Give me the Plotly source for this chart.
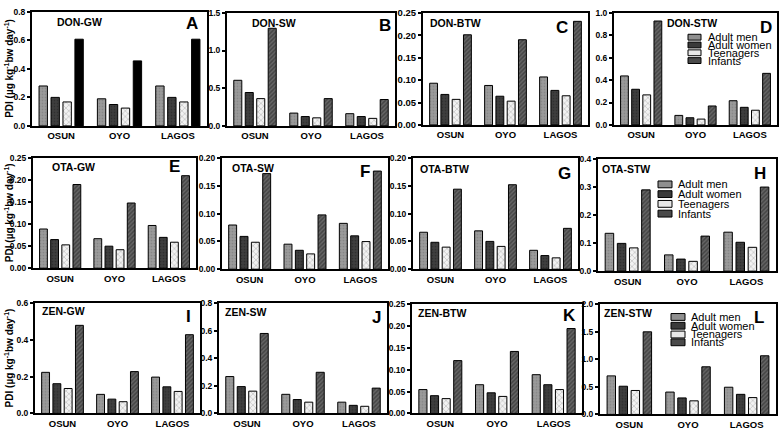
import plotly.graph_objects as go

categories = ["OSUN", "OYO", "LAGOS"]
groups = ["Adult men", "Adult women", "Teenagers", "Infants"]

# values per group (men, women, teenagers, infants) across OSUN, OYO, LAGOS
don_gw = [[0.28, 0.19, 0.28], [0.20, 0.15, 0.20], [0.168, 0.125, 0.168], [0.608, 0.456, 0.608]]
don_sw = [[0.605, 0.17, 0.162], [0.443, 0.124, 0.124], [0.362, 0.107, 0.10], [1.295, 0.362, 0.35]]
don_btw = [[0.093, 0.088, 0.107], [0.068, 0.064, 0.077], [0.057, 0.053, 0.065], [0.201, 0.19, 0.231]]
don_stw = [[0.437, 0.085, 0.216], [0.318, 0.064, 0.157], [0.268, 0.052, 0.131], [0.927, 0.169, 0.46]]
ota_gw = [[0.089, 0.067, 0.097], [0.065, 0.05, 0.07], [0.053, 0.042, 0.059], [0.19, 0.148, 0.21]]
ota_sw = [[0.0795, 0.045, 0.0825], [0.059, 0.034, 0.06], [0.0485, 0.0275, 0.0497], [0.172, 0.0977, 0.1766]]
ota_btw = [[0.0665, 0.069, 0.034], [0.0484, 0.05, 0.0245], [0.0397, 0.041, 0.0204], [0.144, 0.152, 0.0735]]
ota_stw = [[0.135, 0.058, 0.139], [0.099, 0.043, 0.103], [0.083, 0.035, 0.085], [0.29, 0.125, 0.30]]
zen_gw = [[0.224, 0.104, 0.198], [0.162, 0.078, 0.145], [0.136, 0.064, 0.12], [0.48, 0.228, 0.429]]
zen_sw = [[0.268, 0.139, 0.082], [0.195, 0.101, 0.059], [0.162, 0.082, 0.052], [0.581, 0.299, 0.184]]
zen_btw = [[0.0547, 0.0658, 0.0888], [0.0407, 0.0473, 0.0658], [0.034, 0.039, 0.0547], [0.121, 0.142, 0.1945]]
zen_stw = [[0.70, 0.406, 0.494], [0.512, 0.30, 0.365], [0.435, 0.247, 0.306], [1.5, 0.865, 1.065]]

panel_data = [don_gw, don_sw, don_btw, don_stw, ota_gw, ota_sw, ota_btw, ota_stw,
              zen_gw, zen_sw, zen_btw, zen_stw]
panel_titles = ["DON-GW", "DON-SW", "DON-BTW", "DON-STW", "OTA-GW", "OTA-SW", "OTA-BTW", "OTA-STW",
                "ZEN-GW", "ZEN-SW", "ZEN-BTW", "ZEN-STW"]
panel_letters = ["A", "B", "C", "D", "E", "F", "G", "H", "I", "J", "K", "L"]
y_max = [0.8, 1.5, 0.25, 1.0, 0.25, 0.20, 0.20, 0.4, 0.6, 0.8, 0.25, 2.0]
y_dtick = [0.2, 0.5, 0.05, 0.2, 0.05, 0.05, 0.05, 0.1, 0.2, 0.2, 0.05, 0.5]
y_fmt = [".1f", ".1f", ".2f", ".1f", ".2f", ".2f", ".2f", ".1f", ".1f", ".1f", ".2f", ".1f"]

W, H = 781, 436
# panel boxes in pixels (left, right, top, bottom)
boxes = [
    (32, 207, 6, 123), (227, 395, 7, 123), (423, 588, 7, 122), (614, 777, 7, 122),
    (33, 196, 156, 269), (222, 388, 156, 270), (413, 578, 156, 270), (598, 776, 157, 272),
    (35, 200, 305, 418), (219, 387, 305, 418), (412, 582, 306, 418), (600, 776, 306, 419),
]
title_dx = [23, 23, 5, 51, 17, 8, 5, 2, 5, 4, 4, 2]
title_dy = [10, 10, 10, 10, 9, 10, 11, 10, 8, 9, 9, 9]
letter_dx = [7, 2, 18, 3, 14, 16, 5, 8, 7, 4, 4, 10]
letter_dy = [12, 13, 15, 15, 9, 14, 16, 15, 14, 15, 12, 14]
tick_size = [8.5, 8.5, 9.5, 8.5, 8.5, 8.5, 8.5, 8.5, 8.5, 8.5, 8.5, 8.5]

FONT = "Arial, Liberation Sans, sans-serif"

styles = [
    dict(color="#959595", pattern=dict(shape=".", fgcolor="#6f6f6f", bgcolor="#9a9a9a", size=3, solidity=0.25)),
    dict(color="#3a3a3a", pattern=dict(shape=".", fgcolor="#1e1e1e", bgcolor="#3e3e3e", size=3, solidity=0.25)),
    dict(color="#e6e6e6", pattern=dict(shape="x", fgcolor="#9c9c9c", bgcolor="#f2f2f2", size=4, solidity=0.35)),
    dict(color="#5a5a5a", pattern=dict(shape="/", fgcolor="#222222", bgcolor="#666666", size=3, solidity=0.5)),
]

fig = go.Figure()
layout = dict(width=W, height=H, margin=dict(l=0, r=0, t=0, b=0),
              plot_bgcolor="white", paper_bgcolor="white",
              barmode="group", bargap=0.18, bargroupgap=0.3, showlegend=False,
              font=dict(family=FONT, color="black"))
annotations = []
shapes = []

for i, data in enumerate(panel_data):
    n = i + 1
    xa = "x" if n == 1 else f"x{n}"
    ya = "y" if n == 1 else f"y{n}"
    for g in range(4):
        st = styles[g]
        marker = dict(color=st["color"], pattern=st["pattern"], line=dict(color="black", width=1))
        if i == 0 and g == 3:
            marker = dict(color="#000000", line=dict(color="black", width=1))
        fig.add_trace(go.Bar(x=categories, y=data[g], name=groups[g], marker=marker,
                             xaxis=xa, yaxis=ya, showlegend=False))
    l, r, t, b = boxes[i]
    xd = [l / W, r / W]
    yd = [1 - b / H, 1 - t / H]
    layout["xaxis" if n == 1 else f"xaxis{n}"] = dict(
        domain=xd, anchor=ya, showline=True, linecolor="black", linewidth=2, mirror=True,
        ticks="", tickfont=dict(size=9.5, family=FONT, color="black", weight="bold"),
        showgrid=False, range=[-0.5, 2.5], fixedrange=True)
    layout["yaxis" if n == 1 else f"yaxis{n}"] = dict(
        domain=yd, anchor=xa, showline=True, linecolor="black", linewidth=2, mirror=True,
        range=[0, y_max[i]], dtick=y_dtick[i], tick0=0, tickformat=y_fmt[i],
        ticks="outside", ticklen=3, tickwidth=1.5, tickcolor="black",
        tickfont=dict(size=tick_size[i], family=FONT, color="black", weight="bold"),
        showgrid=False, zeroline=False, fixedrange=True)
    # panel title
    annotations.append(dict(x=(l + title_dx[i]) / W, y=1 - (t + title_dy[i]) / H,
                            xref="paper", yref="paper",
                            text=panel_titles[i], showarrow=False, xanchor="left", yanchor="middle",
                            font=dict(size=10.5, family=FONT, color="black", weight="bold")))
    annotations.append(dict(x=(r - letter_dx[i]) / W, y=1 - (t + letter_dy[i]) / H,
                            xref="paper", yref="paper",
                            text=panel_letters[i], showarrow=False, xanchor="right", yanchor="middle",
                            font=dict(size=17, family=FONT, color="black", weight="bold")))

# y-axis titles
for t, b in [(6, 123), (156, 269), (305, 418)]:
    annotations.append(dict(x=9 / W, y=1 - ((t + b) / 2) / H, xref="paper", yref="paper",
                            text="PDI (µg kg<sup>-1</sup>bw day<sup>-1</sup>)", textangle=-90,
                            showarrow=False, xanchor="center", yanchor="middle",
                            font=dict(size=10, family=FONT, color="black", weight="bold")))

# legends (D, H, L)
legend_fill = ["#8f8f8f", "#3a3a3a", "#e8e8e8", "#4a4a4a"]
legend_boxes = [
    (688, 701, 706, [32, 40, 48, 56], 6),
    (658, 672, 676, [183, 193, 203, 213], 7),
    (671, 685, 689, [319, 328, 337, 345], 7),
]
for x0, x1, xt, rows, hh in legend_boxes:
    for g, yc in enumerate(rows):
        shapes.append(dict(type="rect", xref="paper", yref="paper",
                           x0=x0 / W, x1=x1 / W, y0=1 - (yc + hh / 2) / H, y1=1 - (yc - hh / 2) / H,
                           fillcolor=legend_fill[g], line=dict(color="black", width=1)))
        annotations.append(dict(x=xt / W, y=1 - yc / H, xref="paper", yref="paper",
                                text=groups[g], showarrow=False, xanchor="left", yanchor="middle",
                                font=dict(size=11, family=FONT, color="black")))

layout["annotations"] = annotations
layout["shapes"] = shapes
fig.update_layout(**layout)
fig.write_html("out.html", config={"displayModeBar": False},
               post_script="document.body.style.margin='0px';document.body.style.overflow='hidden';")
